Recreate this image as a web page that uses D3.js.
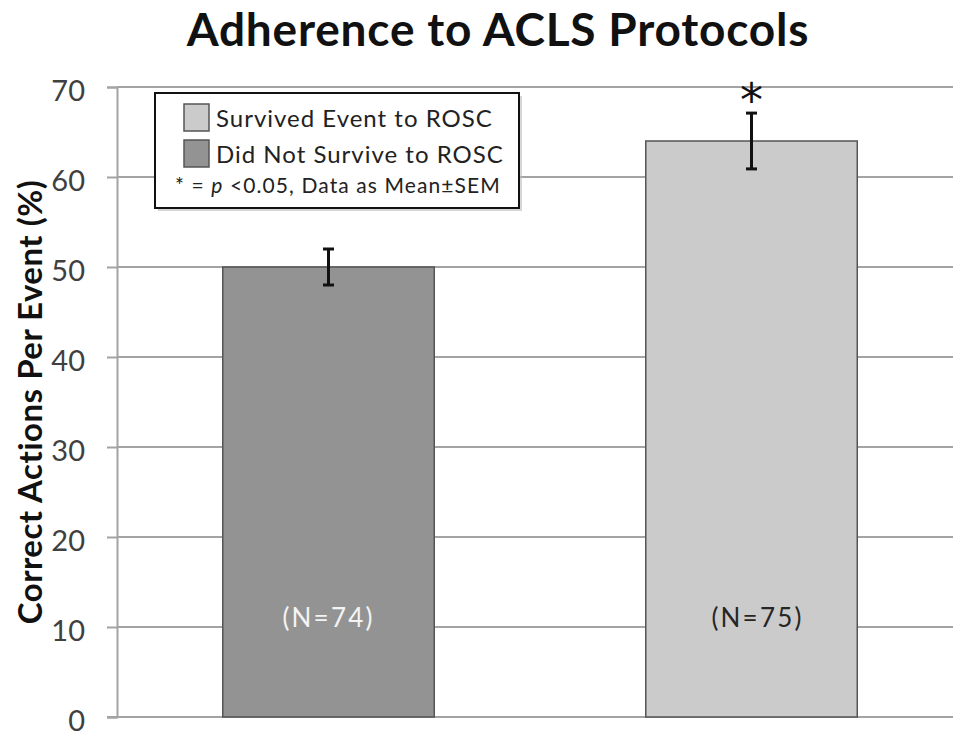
<!DOCTYPE html>
<html>
<head>
<meta charset="utf-8">
<script src="https://cdn.jsdelivr.net/npm/d3@7"></script>
<style>
  body { margin: 0; background: #fff; }
  svg { display: block; font-family: Lato, "Open Sans", sans-serif; }
</style>
</head>
<body>
<svg id="chart" width="953" height="737"></svg>
<script>
// data
var groups = ["Did Not Survive to ROSC", "Survived Event to ROSC"];
var means = [50, 64];
var sems = [2, 3.1];
var nLabels = ["(N=74)", "(N=75)"];
var signif = ["", "*"];
var yTicks = [0, 10, 20, 30, 40, 50, 60, 70];
var legendOrder = ["Survived Event to ROSC", "Did Not Survive to ROSC"];

var fills = { "Did Not Survive to ROSC": "#939393", "Survived Event to ROSC": "#cbcbcb" };
var nColors = ["#f4f4f4", "#262626"];
var gridColor = "#a3a3a3";

var svg = d3.select("#chart");

var y = d3.scaleLinear().domain([0, 70]).range([717, 87]);
var x = d3.scaleBand().domain(groups).range([117, 963]).paddingInner(0.5).paddingOuter(0.25);

// title
svg.append("text")
    .attr("x", 498).attr("y", 46)
    .attr("text-anchor", "middle")
    .attr("font-size", 46).attr("font-weight", "bold")
    .attr("letter-spacing", 0.8)
    .attr("fill", "#111")
    .text("Adherence to ACLS Protocols");

// gridlines
svg.append("g").selectAll("line")
    .data(yTicks.filter(function (d) { return d > 0; }))
    .enter().append("line")
    .attr("x1", 117).attr("x2", 953)
    .attr("y1", function (d) { return y(d); })
    .attr("y2", function (d) { return y(d); })
    .attr("stroke", gridColor).attr("stroke-width", 2);

// y axis
var yAxis = d3.axisLeft(y).tickValues(yTicks).tickSize(10).tickPadding(22);
var gy = svg.append("g").attr("transform", "translate(117,0)").call(yAxis);
gy.select(".domain").attr("stroke", gridColor).attr("stroke-width", 2);
gy.selectAll(".tick line").attr("stroke", gridColor).attr("stroke-width", 2);
gy.selectAll(".tick text")
    .attr("font-size", 29).attr("fill", "#404040")
    .attr("font-family", "Lato, sans-serif")
    .attr("dy", "0.48em");

// x baseline
svg.append("line")
    .attr("x1", 107).attr("x2", 953)
    .attr("y1", y(0)).attr("y2", y(0))
    .attr("stroke", gridColor).attr("stroke-width", 2);

// y axis title
svg.append("text")
    .attr("transform", "translate(42," + (y(0) + y(70)) / 2 + ") rotate(-90)")
    .attr("text-anchor", "middle")
    .attr("font-size", 33).attr("font-weight", "bold")
    .attr("letter-spacing", 0.5)
    .attr("fill", "#111")
    .text("Correct Actions Per Event (%)");

// bars
svg.append("g").selectAll("rect")
    .data(groups)
    .enter().append("rect")
    .attr("x", function (d) { return x(d); })
    .attr("width", x.bandwidth())
    .attr("y", function (d, i) { return y(means[i]); })
    .attr("height", function (d, i) { return y(0) - y(means[i]); })
    .attr("fill", function (d) { return fills[d]; })
    .attr("stroke", "#555").attr("stroke-width", 1.5);

// error bars, significance marks, group sizes
var eb = svg.append("g").attr("stroke", "#111").attr("stroke-width", 3);
groups.forEach(function (g, i) {
    var cx = x(g) + x.bandwidth() / 2;
    var lo = y(means[i] - sems[i]), hi = y(means[i] + sems[i]);
    eb.append("line").attr("x1", cx).attr("x2", cx).attr("y1", lo).attr("y2", hi);
    eb.append("line").attr("x1", cx - 5.5).attr("x2", cx + 5.5).attr("y1", lo).attr("y2", lo);
    eb.append("line").attr("x1", cx - 5.5).attr("x2", cx + 5.5).attr("y1", hi).attr("y2", hi);
    if (signif[i]) {
        svg.append("text")
            .attr("x", cx).attr("y", hi + 3)
            .attr("text-anchor", "middle")
            .attr("font-size", 46).attr("fill", "#111")
            .attr("font-family", "DejaVu Sans, sans-serif")
            .text(signif[i]);
    }
    svg.append("text")
        .attr("x", cx + (i == 1 ? 6 : 0)).attr("y", 627)
        .attr("text-anchor", "middle")
        .attr("font-size", 26).attr("letter-spacing", 2.2)
        .attr("fill", nColors[i])
        .text(nLabels[i]);
});

// legend
var leg = svg.append("g").attr("transform", "translate(155,93)");
leg.append("rect")
    .attr("x", 3).attr("y", 3).attr("width", 364).attr("height", 115)
    .attr("fill", "#bbb").attr("opacity", 0.6);
leg.append("rect")
    .attr("width", 364).attr("height", 115)
    .attr("fill", "#fff").attr("stroke", "#111").attr("stroke-width", 2);
legendOrder.forEach(function (d, i) {
    leg.append("rect")
        .attr("x", 29).attr("y", 11 + i * 36).attr("width", 25).attr("height", 27)
        .attr("fill", fills[d]).attr("stroke", "#555").attr("stroke-width", 1.5);
    leg.append("text")
        .attr("x", 61).attr("y", 34 + i * 36)
        .attr("font-size", 24).attr("letter-spacing", 1)
        .attr("fill", "#222")
        .text(d);
});
var note = leg.append("text").attr("x", 20).attr("y", 100)
    .attr("font-size", 21).attr("letter-spacing", 1.1)
    .attr("fill", "#222");
note.append("tspan").text("* = ");
note.append("tspan").attr("font-style", "italic").text("p");
note.append("tspan").text(" <0.05, Data as Mean\u00b1SEM");
</script>
</body>
</html>
